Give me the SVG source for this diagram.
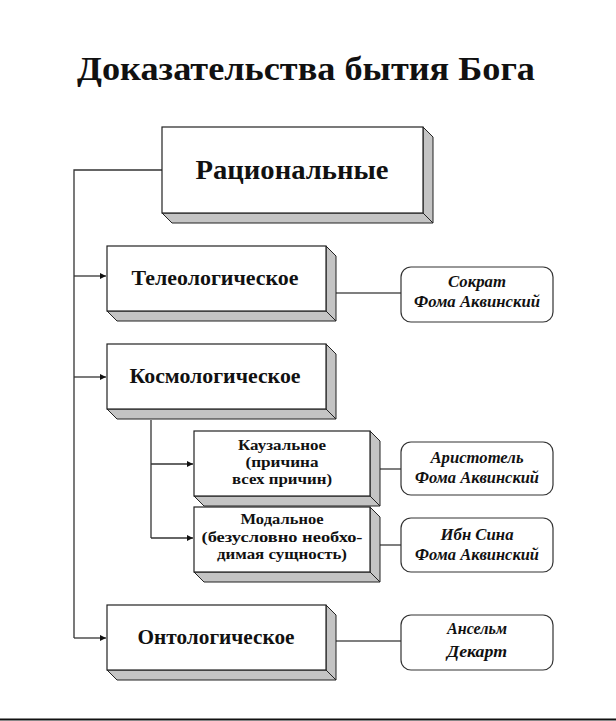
<svg xmlns="http://www.w3.org/2000/svg" width="616" height="721" viewBox="0 0 616 721">
<style>
.front{fill:#fff;stroke:#222;stroke-width:1.2}
.shade{fill:#c4c4c4;stroke:#222;stroke-width:1}
.pbox{fill:#fff;stroke:#333;stroke-width:1.2}
.t{font-family:"Liberation Serif","Times New Roman",serif;font-weight:bold;fill:#111;text-anchor:middle}
.s{font-size:14.5px}
.b{font-size:22px}
.p{font-family:"Liberation Serif","Times New Roman",serif;font-weight:bold;font-style:italic;fill:#111;text-anchor:middle;font-size:16px}
.ln{fill:none;stroke:#333;stroke-width:1.3}
.cn{fill:none;stroke:#555;stroke-width:1.5}
</style>
<defs>
<marker id="ah" markerWidth="7" markerHeight="6" refX="6" refY="3" orient="auto" markerUnits="userSpaceOnUse">
<path d="M0,0 L6,3 L0,6 Z" fill="#111"/>
</marker>
</defs>
<rect width="616" height="721" fill="#fff"/>
<text class="t" x="306" y="80" font-size="34" textLength="458" lengthAdjust="spacingAndGlyphs">Доказательства бытия Бога</text>

<g id="connectors">
<polyline class="ln" points="162,170 74,170 74,638"/>
<line class="ln" x1="74" y1="276" x2="106" y2="276" marker-end="url(#ah)"/>
<line class="ln" x1="74" y1="377" x2="106" y2="377" marker-end="url(#ah)"/>
<line class="ln" x1="74" y1="638" x2="106" y2="638" marker-end="url(#ah)"/>
<polyline class="ln" points="151,420 151,538"/>
<line class="ln" x1="151" y1="464" x2="193" y2="464" marker-end="url(#ah)"/>
<line class="ln" x1="151" y1="538" x2="193" y2="538" marker-end="url(#ah)"/>
<line class="cn" x1="336" y1="293" x2="401" y2="293"/>
<line class="cn" x1="380" y1="469" x2="401" y2="469"/>
<line class="cn" x1="380" y1="545" x2="401" y2="545"/>
<line class="cn" x1="336" y1="641" x2="401" y2="641"/>
</g>

<g id="rational">
<polygon class="shade" points="423,127 433,137 433,223 423,213"/>
<polygon class="shade" points="162,213 423,213 433,223 172,223"/>
<rect class="front" x="162" y="127" width="261" height="86"/>
<text class="t" x="292" y="179" font-size="27" textLength="193" lengthAdjust="spacingAndGlyphs">Рациональные</text>
</g>

<g id="teleological">
<polygon class="shade" points="326,246 336,256 336,321 326,311"/>
<polygon class="shade" points="107,311 326,311 336,321 117,321"/>
<rect class="front" x="107" y="246" width="219" height="65"/>
<text class="t b" x="215" y="285" textLength="167" lengthAdjust="spacingAndGlyphs">Телеологическое</text>
</g>

<g id="cosmological">
<polygon class="shade" points="326,344 336,354 336,419 326,409"/>
<polygon class="shade" points="107,409 326,409 336,419 117,419"/>
<rect class="front" x="107" y="344" width="219" height="65"/>
<text class="t b" x="215" y="383" textLength="171" lengthAdjust="spacingAndGlyphs">Космологическое</text>
</g>

<g id="causal">
<polygon class="shade" points="370,431 380,441 380,506 370,496"/>
<polygon class="shade" points="194,496 370,496 380,506 204,506"/>
<rect class="front" x="194" y="431" width="176" height="65"/>
<text class="t s" x="282" y="450" textLength="88" lengthAdjust="spacingAndGlyphs">Каузальное</text>
<text class="t s" x="282" y="467" textLength="73" lengthAdjust="spacingAndGlyphs">(причина</text>
<text class="t s" x="282" y="484" textLength="100" lengthAdjust="spacingAndGlyphs">всех причин)</text>
</g>

<g id="modal">
<polygon class="shade" points="370,507 380,517 380,582 370,572"/>
<polygon class="shade" points="194,572 370,572 380,582 204,582"/>
<rect class="front" x="194" y="507" width="176" height="65"/>
<text class="t s" x="282" y="524" textLength="83" lengthAdjust="spacingAndGlyphs">Модальное</text>
<text class="t s" x="282" y="542" textLength="161" lengthAdjust="spacingAndGlyphs">(безусловно необхо-</text>
<text class="t s" x="282" y="559" textLength="130" lengthAdjust="spacingAndGlyphs">димая сущность)</text>
</g>

<g id="ontological">
<polygon class="shade" points="326,605 336,615 336,680 326,670"/>
<polygon class="shade" points="107,670 326,670 336,680 117,680"/>
<rect class="front" x="107" y="605" width="219" height="65"/>
<text class="t b" x="216" y="644" textLength="157" lengthAdjust="spacingAndGlyphs">Онтологическое</text>
</g>

<g id="p-sokrat">
<rect class="pbox" x="401" y="267" width="152" height="55" rx="10"/>
<text class="p" x="477" y="287" textLength="58" lengthAdjust="spacingAndGlyphs">Сократ</text>
<text class="p" x="477" y="307" textLength="126" lengthAdjust="spacingAndGlyphs">Фома Аквинский</text>
</g>
<g id="p-aristotle">
<rect class="pbox" x="401" y="442" width="152" height="53" rx="10"/>
<text class="p" x="477" y="463" textLength="93" lengthAdjust="spacingAndGlyphs">Аристотель</text>
<text class="p" x="477" y="483" textLength="124" lengthAdjust="spacingAndGlyphs">Фома Аквинский</text>
</g>
<g id="p-ibnsina">
<rect class="pbox" x="401" y="518" width="152" height="54" rx="10"/>
<text class="p" x="477" y="540" textLength="73" lengthAdjust="spacingAndGlyphs">Ибн Сина</text>
<text class="p" x="477" y="560" textLength="124" lengthAdjust="spacingAndGlyphs">Фома Аквинский</text>
</g>
<g id="p-anselm">
<rect class="pbox" x="401" y="615" width="152" height="55" rx="10"/>
<text class="p" x="477" y="634" textLength="60" lengthAdjust="spacingAndGlyphs">Ансельм</text>
<text class="p" x="477" y="657" textLength="60" lengthAdjust="spacingAndGlyphs">Декарт</text>
</g>

<line x1="0" y1="719.5" x2="616" y2="719.5" stroke="#111" stroke-width="2"/>
</svg>
